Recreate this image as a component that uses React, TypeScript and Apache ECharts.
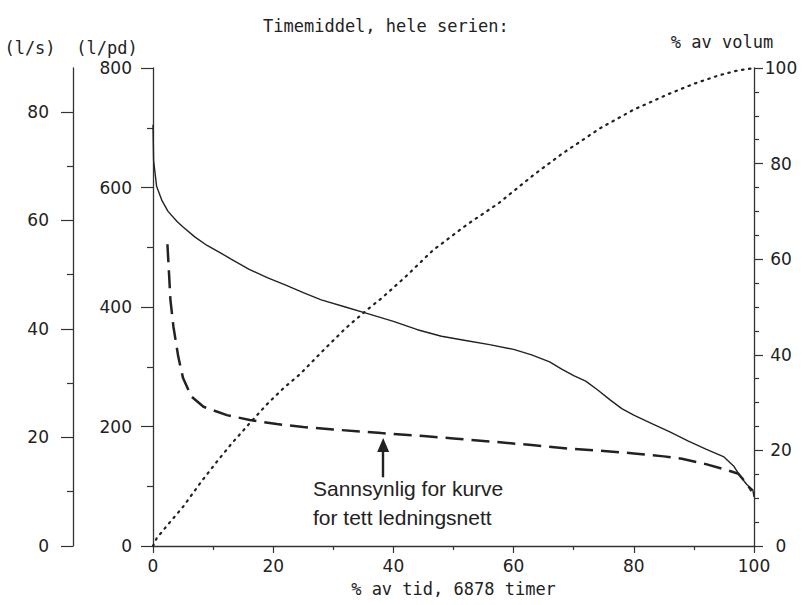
import React, { useEffect, useRef } from "react";
import * as echarts from "echarts";

// ---- texts ----
const TITLE = "Timemiddel, hele serien:";
const X_NAME = "% av tid, 6878 timer";
const Y_LS_NAME = "(l/s)";
const Y_LPD_NAME = "(l/pd)";
const Y_VOL_NAME = "% av volum";
const NOTE_LINES = ["Sannsynlig for kurve", "for tett ledningsnett"];

// ---- axes ----
const X_MIN = 0;
const X_MAX = 100;
const X_INTERVAL = 20;
const LPD_MAX = 800;
const LPD_INTERVAL = 200;
const LS_MAX = 88.1;
const LS_INTERVAL = 20;
const LS_TICKS = [0, 20, 40, 60, 80];
const VOL_MAX = 100;
const VOL_INTERVAL = 20;

// ---- series: [% av tid, l/pd] ----
const measuredCurve: [number, number][] = [
  [0, 705], [0.1, 645], [0.6, 602], [1.5, 578], [2.5, 560], [4, 543], [5, 534],
  [7, 517], [9, 503], [11, 492], [13, 480], [16, 463], [19, 449], [22, 437],
  [25, 424], [28, 412], [32, 400], [36, 388], [40, 376], [44, 362], [48, 351],
  [52, 344], [56, 337], [60, 329], [63, 320], [66, 308], [68, 296], [70, 285],
  [72, 276], [74, 261], [76, 245], [78, 230], [80, 219], [83, 205], [86, 191],
  [89, 176], [92, 162], [95, 149], [96.6, 134], [97.7, 117], [98.8, 103],
  [99.8, 94], [100, 82],
];

// probable curve for a tight pipe network [% av tid, l/pd]
const tightNetCurve: [number, number][] = [
  [2.4, 505], [2.7, 450], [2.9, 412], [3.4, 367], [4.2, 317], [5.0, 281],
  [6.4, 250], [8.4, 233], [12.3, 219], [16.1, 211], [20.6, 204], [25, 199],
  [30, 195], [38, 189], [45, 184], [50, 180], [56, 175], [63, 169], [69, 163],
  [75, 159], [80, 155], [85, 150], [88, 146], [92, 137], [95.5, 127],
  [97.4, 121], [98.8, 104], [99.6, 92],
];

// cumulative volume [% av tid, % av volum]
const volumeCurve: [number, number][] = [
  [0, 0], [0.6, 1.6], [2.5, 4.5], [5, 8.2], [8, 13.4], [10.6, 17.6], [13, 21.3],
  [16.1, 25.7], [19, 29.7], [21.7, 33], [24.5, 36], [28, 40.5], [32, 45.5],
  [35.6, 49.4], [38, 51.8], [42, 56.3], [46.6, 61.9], [52.2, 67.2], [57.5, 71.7],
  [63.3, 77.6], [68, 82], [74.4, 87.4], [80, 91.3], [85.5, 94.4], [90, 96.7],
  [94, 98.4], [97, 99.4], [100, 100],
];

// annotation arrow (data coordinates on the l/pd axis)
const ARROW_X = 38.3;
const ARROW_FROM = 115;
const ARROW_TO = 169;

const INK = "#222";
const AXIS_INK = "#333";
const MONO = "DejaVu Sans Mono";
const SANS = "DejaVu Sans";

export default function App() {
  const ref = useRef<HTMLDivElement>(null);

  useEffect(() => {
    if (!ref.current) return;
    const chart = echarts.init(ref.current, undefined, { renderer: "svg" });
    const axisLine = { show: true, lineStyle: { color: AXIS_INK, width: 1.3 } };
    const tickStyle = { color: AXIS_INK, width: 1.2 };
    const labelStyle = { fontFamily: SANS, fontSize: 17, color: INK };

    const option: any = {
      animation: false,
      backgroundColor: "#fff",
      title: {
        text: TITLE,
        left: 258,
        top: 12,
        textStyle: { fontFamily: MONO, fontSize: 17, fontWeight: "normal", color: INK },
      },
      grid: { left: 153, right: 52, top: 68, bottom: 59, containLabel: false, outerBoundsMode: "none" },
      xAxis: {
        type: "value",
        min: X_MIN,
        max: X_MAX,
        interval: X_INTERVAL,
        axisLine,
        axisTick: { show: true, length: 7, lineStyle: tickStyle },
        minorTick: { show: true, splitNumber: 2, length: 4, lineStyle: tickStyle },
        axisLabel: { ...labelStyle, margin: 11 },
        splitLine: { show: false },
        name: X_NAME,
        nameLocation: "middle",
        nameGap: 34,
        nameTextStyle: { fontFamily: MONO, fontSize: 17, color: INK },
      },
      yAxis: [
        {
          type: "value",
          position: "left",
          min: 0,
          max: LPD_MAX,
          interval: LPD_INTERVAL,
          axisLine,
          axisTick: { show: true, length: 12, lineStyle: tickStyle },
          minorTick: { show: true, splitNumber: 2, length: 6, lineStyle: tickStyle },
          axisLabel: { ...labelStyle, margin: 21 },
          splitLine: { show: false },
        },
        {
          type: "value",
          position: "left",
          offset: 80,
          min: 0,
          max: LS_MAX,
          interval: LS_INTERVAL,
          axisLine,
          axisTick: { show: true, length: 12, lineStyle: tickStyle, customValues: LS_TICKS },
          minorTick: { show: true, splitNumber: 2, length: 6, lineStyle: tickStyle },
          axisLabel: {
            ...labelStyle,
            margin: 24,
            customValues: LS_TICKS,
            formatter: (v: number) => (v % LS_INTERVAL === 0 ? String(v) : ""),
          },
          splitLine: { show: false },
        },
        {
          type: "value",
          position: "right",
          min: 0,
          max: VOL_MAX,
          interval: VOL_INTERVAL,
          axisLine,
          axisTick: { show: true, length: 9, lineStyle: tickStyle },
          minorTick: { show: true, splitNumber: 4, length: 5, lineStyle: tickStyle },
          axisLabel: { ...labelStyle, margin: 27, align: "center" },
          splitLine: { show: false },
        },
      ],
      series: [
        {
          name: "measured",
          type: "line",
          yAxisIndex: 0,
          data: measuredCurve,
          symbol: "none",
          lineStyle: { color: INK, width: 1.4 },
        },
        {
          name: "tight",
          type: "line",
          yAxisIndex: 0,
          data: tightNetCurve,
          symbol: "none",
          lineStyle: { color: INK, width: 2.5, type: [18, 8] },
          markLine: {
            silent: true,
            symbol: ["none", "triangle"],
            symbolSize: [12, 14],
            label: { show: false },
            lineStyle: { color: INK, width: 2.4, type: "solid" },
            data: [[{ coord: [ARROW_X, ARROW_FROM] }, { coord: [ARROW_X, ARROW_TO] }]],
          },
        },
        {
          name: "volume",
          type: "line",
          yAxisIndex: 2,
          data: volumeCurve,
          symbol: "none",
          lineStyle: { color: INK, width: 2.2, type: [1.5, 5.5], cap: "round" },
        },
      ],
      graphic: [
        {
          type: "text",
          x: 30,
          y: 48,
          style: { text: Y_LS_NAME, font: `17px '${MONO}'`, fill: INK, align: "center", verticalAlign: "middle", textAlign: "center", textVerticalAlign: "middle" },
        },
        {
          type: "text",
          x: 107,
          y: 48,
          style: { text: Y_LPD_NAME, font: `17px '${MONO}'`, fill: INK, align: "center", verticalAlign: "middle", textAlign: "center", textVerticalAlign: "middle" },
        },
        {
          type: "text",
          x: 722,
          y: 42,
          style: { text: Y_VOL_NAME, font: `17px '${MONO}'`, fill: INK, align: "center", verticalAlign: "middle", textAlign: "center", textVerticalAlign: "middle" },
        },
        {
          type: "text",
          left: 313,
          top: 474,
          style: { text: NOTE_LINES.join("\n"), font: "21px 'Liberation Sans'", lineHeight: 29, fill: INK },
        },
      ],
    };
    chart.setOption(option);
    return () => chart.dispose();
  }, []);

  return (
    <div
      ref={ref}
      style={{ position: "fixed", left: 0, top: 0, width: 806, height: 605, background: "#fff" }}
    />
  );
}
